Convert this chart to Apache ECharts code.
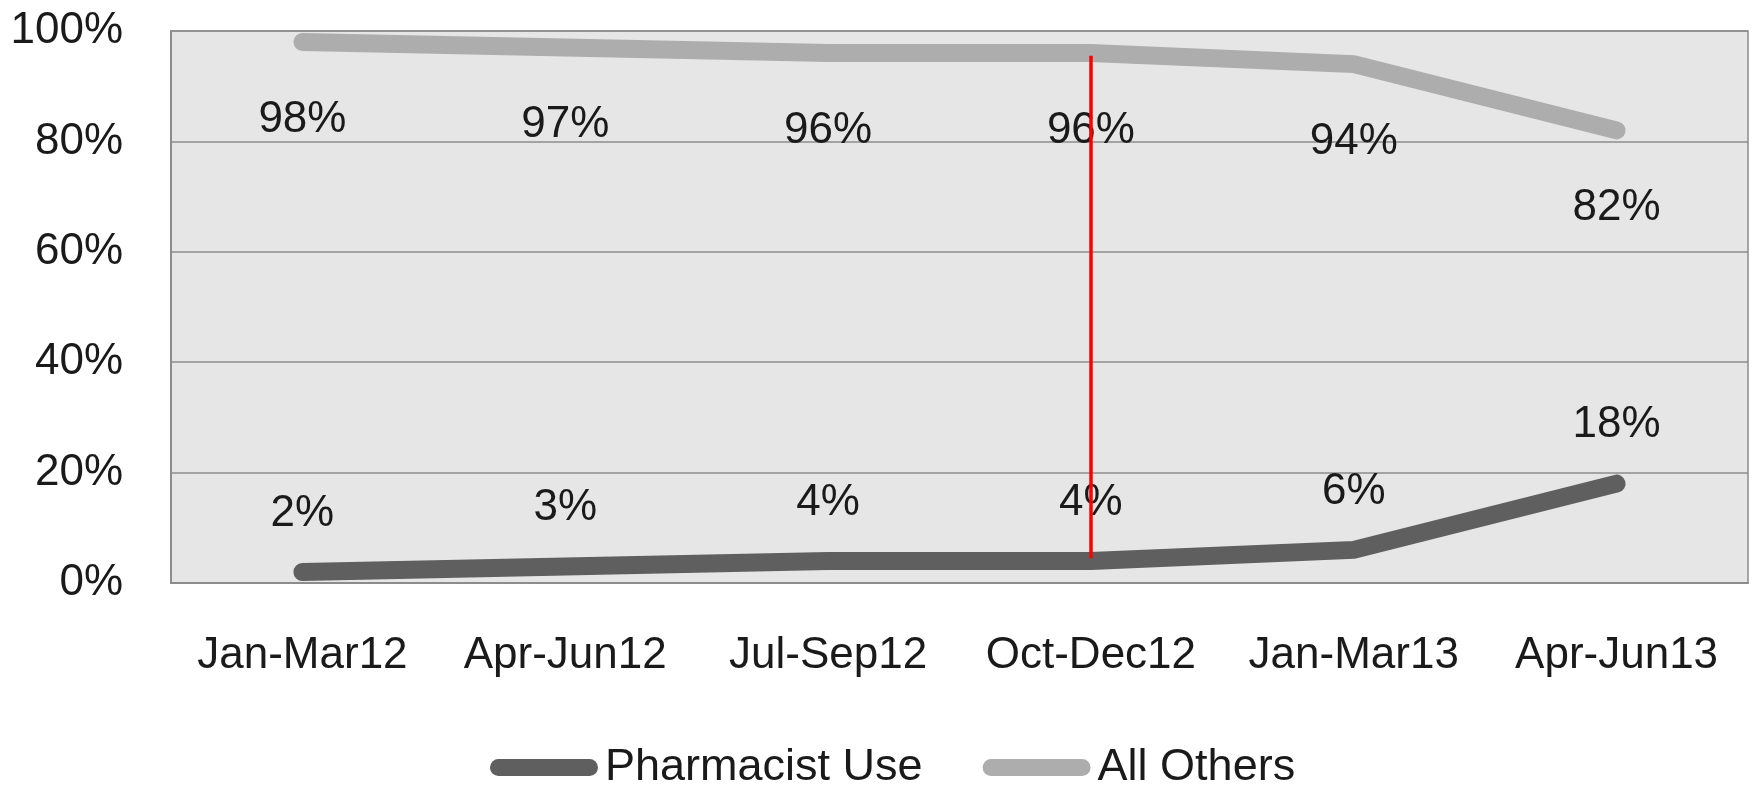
<!DOCTYPE html>
<html>
<head>
<meta charset="utf-8">
<script src="https://cdn.jsdelivr.net/npm/echarts@6/dist/echarts.min.js"></script>
<style>
html,body{margin:0;padding:0;background:#fff;}
#c{width:1752px;height:787px;}
</style>
</head>
<body>
<div id="c"></div>
<script>
const categories = ['Jan-Mar12','Apr-Jun12','Jul-Sep12','Oct-Dec12','Jan-Mar13','Apr-Jun13'];
const pharmacistUse = [2, 3, 4, 4, 6, 18];
const allOthers = [98, 97, 96, 96, 94, 82];
const seriesNames = ['Pharmacist Use', 'All Others'];
const markerCategory = 'Oct-Dec12';
const markerRange = [95.5, 4.5];

const FONT = '"Liberation Sans", Arial, sans-serif';
const chart = echarts.init(document.getElementById('c'));
const pill = 'path://M8.5,0 L99.5,0 A8.5,8.5 0 0 1 99.5,17 L8.5,17 A8.5,8.5 0 0 1 8.5,0 Z';

chart.setOption({
  animation: false,
  backgroundColor: '#ffffff',
  grid: {
    left: 171, right: 4, top: 31, bottom: 204,
    show: true, backgroundColor: '#e6e6e6', borderColor: '#8c8c8c', borderWidth: 1.5
  },
  legend: {
    top: 745,
    left: 490,
    padding: 0,
    itemWidth: 108,
    itemHeight: 17,
    itemGap: 60,
    textStyle: { fontFamily: FONT, fontSize: 45, color: '#1a1a1a', padding: [0,0,0,2] },
    data: [
      { name: seriesNames[0], icon: pill, itemStyle: { color: '#5f5f5f' } },
      { name: seriesNames[1], icon: pill, itemStyle: { color: '#adadad' } }
    ]
  },
  xAxis: {
    type: 'category',
    data: categories,
    boundaryGap: true,
    axisLine: { show: true, lineStyle: { color: '#8c8c8c', width: 2 } },
    axisTick: { show: false },
    axisLabel: { interval: 0, fontFamily: FONT, fontSize: 44, color: '#1a1a1a', margin: 51 },
    splitLine: { show: false }
  },
  yAxis: {
    type: 'value',
    min: 0, max: 100, interval: 20,
    axisLine: { show: true, lineStyle: { color: '#8c8c8c', width: 2 } },
    axisTick: { show: false },
    axisLabel: { fontFamily: FONT, fontSize: 44, color: '#1a1a1a', margin: 48, formatter: '{value}%', padding: [10,0,0,0] },
    splitLine: { show: true, lineStyle: { color: '#8c8c8c', width: 1.5 } }
  },
  series: [
    {
      name: seriesNames[0],
      type: 'line',
      data: pharmacistUse,
      symbol: 'circle',
      symbolSize: 1,
      showSymbol: true,
      itemStyle: { color: 'rgba(0,0,0,0)' },
      lineStyle: { color: '#5f5f5f', width: 18, cap: 'round', join: 'round' },
      label: {
        show: true, position: 'top', distance: 36,
        formatter: '{c}%', fontFamily: FONT, fontSize: 44, color: '#1a1a1a'
      },
      labelLayout: { hideOverlap: false },
      z: 3
    },
    {
      name: seriesNames[1],
      type: 'line',
      data: allOthers,
      symbol: 'circle',
      symbolSize: 1,
      showSymbol: true,
      itemStyle: { color: 'rgba(0,0,0,0)' },
      lineStyle: { color: '#adadad', width: 18, cap: 'round', join: 'round' },
      label: {
        show: true, position: 'bottom', distance: 55,
        formatter: '{c}%', fontFamily: FONT, fontSize: 44, color: '#1a1a1a'
      },
      labelLayout: { hideOverlap: false },
      markLine: {
        silent: true,
        symbol: ['none', 'none'],
        label: { show: false },
        lineStyle: { color: '#ff0000', width: 3.5, type: 'solid' },
        data: [[
          { coord: [markerCategory, markerRange[0]] },
          { coord: [markerCategory, markerRange[1]] }
        ]]
      },
      z: 3
    }
  ]
});
</script>
</body>
</html>
